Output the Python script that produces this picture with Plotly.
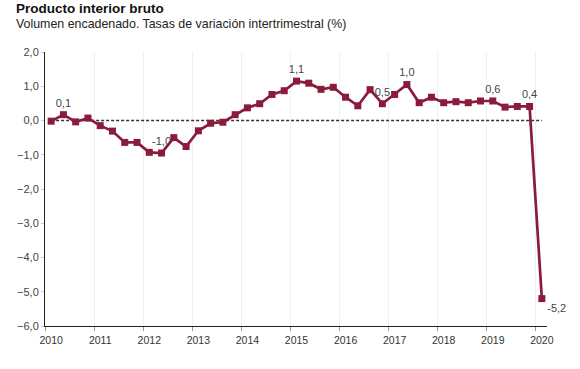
import plotly.graph_objects as go

years = list(range(2010, 2021))
# Quarterly GDP growth (quarter-on-quarter, %), 2010T1 .. 2020T1
values = [
    -0.02, 0.17, -0.04, 0.07,
    -0.15, -0.31, -0.64, -0.64,
    -0.93, -0.95, -0.50, -0.76,
    -0.30, -0.08, -0.05, 0.17,
    0.37, 0.49, 0.76, 0.87,
    1.15, 1.09, 0.91, 0.97,
    0.68, 0.43, 0.90, 0.49,
    0.76, 1.05, 0.52, 0.68,
    0.52, 0.55, 0.52, 0.57,
    0.57, 0.39, 0.41, 0.41,
    -5.2,
]
labels = [
    "", "0,1", "", "",
    "", "", "", "",
    "", "-1,0", "", "",
    "", "", "", "",
    "", "", "", "",
    "1,1", "", "", "",
    "", "", "", "0,5",
    "", "1,0", "", "",
    "", "", "", "",
    "0,6", "", "", "0,4",
    "-5,2",
]
y_ticks = [2, 1, 0, -1, -2, -3, -4, -5, -6]

# position of each quarter at the middle of its period on a year axis
x = [years[0] + i / 4 + 0.125 for i in range(len(values))]
textpos = ["top center"] * (len(values) - 1) + ["bottom right"]

RED = "#8a1b3b"
fig = go.Figure()
fig.add_trace(go.Scatter(
    x=[x[0], x[-1]], y=[0, 0], mode="lines",
    line=dict(color="#333333", width=1.6, dash="3px,2px"),
    hoverinfo="skip", showlegend=False,
))
fig.add_trace(go.Scatter(
    x=x, y=values, mode="lines+markers+text",
    line=dict(color=RED, width=2.7),
    marker=dict(symbol="square", size=7, color=RED),
    text=labels, textposition=textpos,
    textfont=dict(family="Liberation Sans, Arial", size=11, color="#444444"),
    cliponaxis=False, showlegend=False, hoverinfo="skip",
))

fig.update_layout(
    width=580, height=369,
    margin=dict(l=45, r=33, t=52, b=43),
    paper_bgcolor="white", plot_bgcolor="white",
    separators=",.",
    font=dict(family="Liberation Sans, Arial", size=11, color="#444444"),
    xaxis=dict(
        range=[2010, 2020.23],
        tickvals=[yy + 0.125 for yy in years],
        ticktext=[str(yy) for yy in years],
        ticks="", showgrid=False, zeroline=False,
        showline=True, linecolor="#222222", linewidth=1,
        tickfont=dict(size=10.5, color="#333333"),
        ticklabelstandoff=4,
        minor=dict(tickvals=years, ticks="outside", ticklen=4, tickcolor="#999999",
                   showgrid=True, gridcolor="#f0f0f5", gridwidth=1),
        fixedrange=True,
    ),
    yaxis=dict(
        range=[-6, 2], tickvals=y_ticks, tickformat=".1f",
        showgrid=False, zeroline=False,
        showline=True, linecolor="#222222", linewidth=1,
        ticks="outside", ticklen=3, tickcolor="#cccccc",
        tickfont=dict(size=11, color="#444444"),
        fixedrange=True,
    ),
    annotations=[
        dict(text="<b>Producto interior bruto</b>", xref="paper", yref="paper",
             x=-0.0618, y=1.0, xanchor="left", yanchor="bottom", yshift=33.5,
             showarrow=False, font=dict(size=13.5, color="#111111")),
        dict(text="Volumen encadenado. Tasas de variación intertrimestral (%)",
             xref="paper", yref="paper", x=-0.0618, y=1.0, xanchor="left",
             yanchor="bottom", yshift=19, showarrow=False,
             font=dict(size=12.4, color="#222222")),
    ],
)
fig.write_html(
    "out.html",
    config={"displayModeBar": False},
    post_script="document.body.style.margin='0';document.body.style.padding='0';",
)
